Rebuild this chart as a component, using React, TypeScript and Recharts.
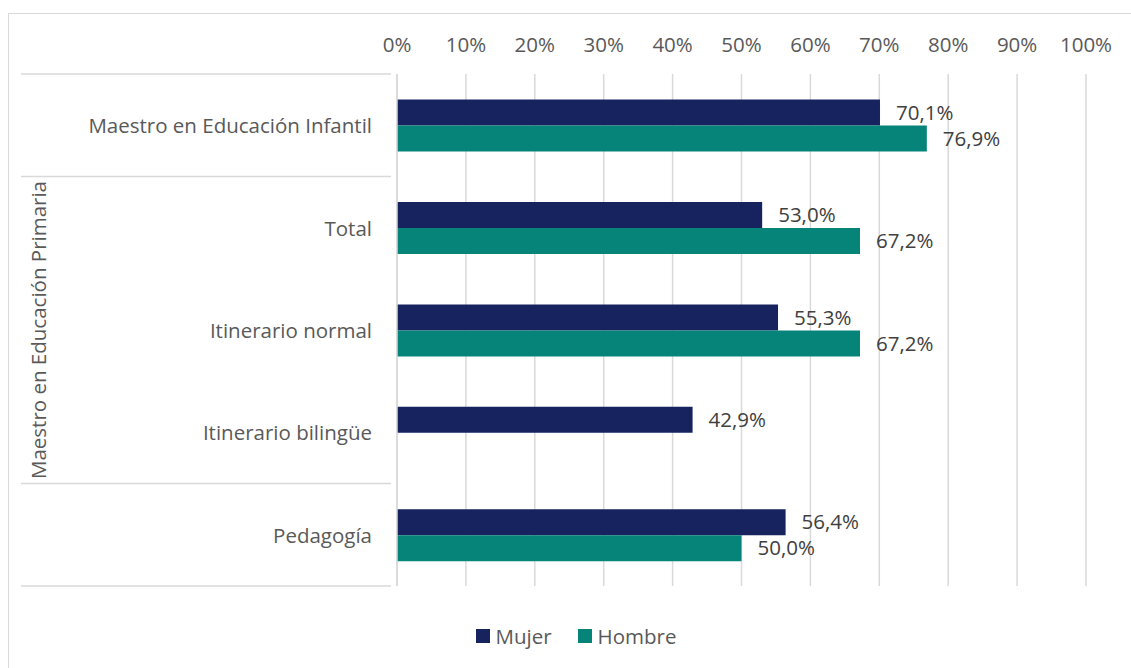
import React from "react";
import {
  BarChart,
  Bar,
  CartesianGrid,
  XAxis,
  YAxis,
  Legend,
  LabelList,
} from "recharts";

const categories = [
  "Maestro en Educación Infantil",
  "Total",
  "Itinerario normal",
  "Itinerario bilingüe",
  "Pedagogía",
];
const mujer = [70.1, 53.0, 55.3, 42.9, 56.4];
const hombre: Array<number | null> = [76.9, 67.2, 67.2, null, 50.0];
const xTicks = [0, 10, 20, 30, 40, 50, 60, 70, 80, 90, 100];
const groupLabel = "Maestro en Educación Primaria";
// categories that start a new block on the left axis
const blockStarts = [0, 1, 4];
const groupMiddle = 2;

const data = categories.map((name, i) => ({
  name,
  Mujer: mujer[i],
  Hombre: hombre[i],
}));

const FONT = "'Open Sans', sans-serif";
const FS = 20.5;
const NAVY = "#16235E";
const TEAL = "#06847A";
const GRID = "#d9d9d9";

function fmtPct(v: unknown) {
  if (v === null || v === undefined) return "";
  return `${Number(v).toFixed(1).replace(".", ",")}%`;
}

function CategoryTick(props: any) {
  const { x, y, payload, index } = props;
  const half = payload?.offset ?? 51.2;
  const lineLeft = 21;
  return (
    <g>
      <text
        x={x + 4}
        y={y}
        textAnchor="end"
        dominantBaseline="central"
        fontFamily={FONT}
        fontSize={FS}
        fill="#595959"
      >
        {payload.value}
      </text>
      {blockStarts.includes(index) && (
        <line x1={lineLeft} x2={x + 23} y1={y - half} y2={y - half} stroke={GRID} strokeWidth={1.5} />
      )}
      {index === categories.length - 1 && (
        <line x1={lineLeft} x2={x + 23} y1={y + half} y2={y + half} stroke={GRID} strokeWidth={1.5} />
      )}
      {index === groupMiddle && (
        <text
          x={38}
          y={y}
          transform={`rotate(-90 38 ${y})`}
          textAnchor="middle"
          dominantBaseline="central"
          fontFamily={FONT}
          fontSize={FS}
          fill="#595959"
        >
          {groupLabel}
        </text>
      )}
    </g>
  );
}

function LegendContent() {
  const items = [
    { label: "Mujer", color: NAVY },
    { label: "Hombre", color: TEAL },
  ];
  return (
    <div
      style={{
        display: "flex",
        justifyContent: "center",
        gap: 26,
        fontFamily: FONT,
        fontSize: FS,
        color: "#595959",
        paddingTop: 36,
      }}
    >
      {items.map((it) => (
        <span key={it.label} style={{ display: "flex", alignItems: "center", gap: 6 }}>
          <span style={{ width: 14, height: 14, background: it.color, display: "inline-block" }} />
          {it.label}
        </span>
      ))}
    </div>
  );
}

export default function App() {
  return (
    <div
      style={{
        position: "absolute",
        left: 0,
        top: 0,
        width: 1131,
        height: 668,
        overflow: "hidden",
        background: "#fff",
      }}
    >
      <div
        style={{
          position: "absolute",
          left: 8,
          top: 13,
          width: 1200,
          height: 800,
          border: `1.5px solid ${GRID}`,
        }}
      />
      <div style={{ position: "absolute", left: 0, top: 0 }}>
        <BarChart
          width={1131}
          height={668}
          data={data}
          layout="vertical"
          margin={{ top: 30, right: 45, bottom: 10, left: 20 }}
          barCategoryGap="25%"
          barGap={0}
        >
          <CartesianGrid horizontal={false} stroke={GRID} strokeWidth={1.5} />
          <XAxis
            type="number"
            orientation="top"
            domain={[0, 100]}
            ticks={xTicks}
            tickFormatter={(v) => `${v}%`}
            axisLine={false}
            tickLine={false}
            height={44}
            tickMargin={16}
            tick={{ fontFamily: FONT, fontSize: FS, fill: "#595959" }}
          />
          <YAxis
            type="category"
            dataKey="name"
            width={377}
            axisLine={{ stroke: GRID, strokeWidth: 1.5 }}
            tickLine={false}
            tickMargin={23}
            interval={0}
            tick={<CategoryTick />}
          />
          <Legend
            verticalAlign="bottom"
            content={<LegendContent />}
            wrapperStyle={{ left: 0, width: 1152, height: 72 }}
          />
          <Bar dataKey="Mujer" fill={NAVY} isAnimationActive={false}>
            <LabelList
              dataKey="Mujer"
              position="right"
              offset={16}
              formatter={fmtPct}
              style={{ fontFamily: FONT, fontSize: FS, fill: "#404040" }}
            />
          </Bar>
          <Bar dataKey="Hombre" fill={TEAL} isAnimationActive={false}>
            <LabelList
              dataKey="Hombre"
              position="right"
              offset={16}
              formatter={fmtPct}
              style={{ fontFamily: FONT, fontSize: FS, fill: "#404040" }}
            />
          </Bar>
        </BarChart>
      </div>
    </div>
  );
}
